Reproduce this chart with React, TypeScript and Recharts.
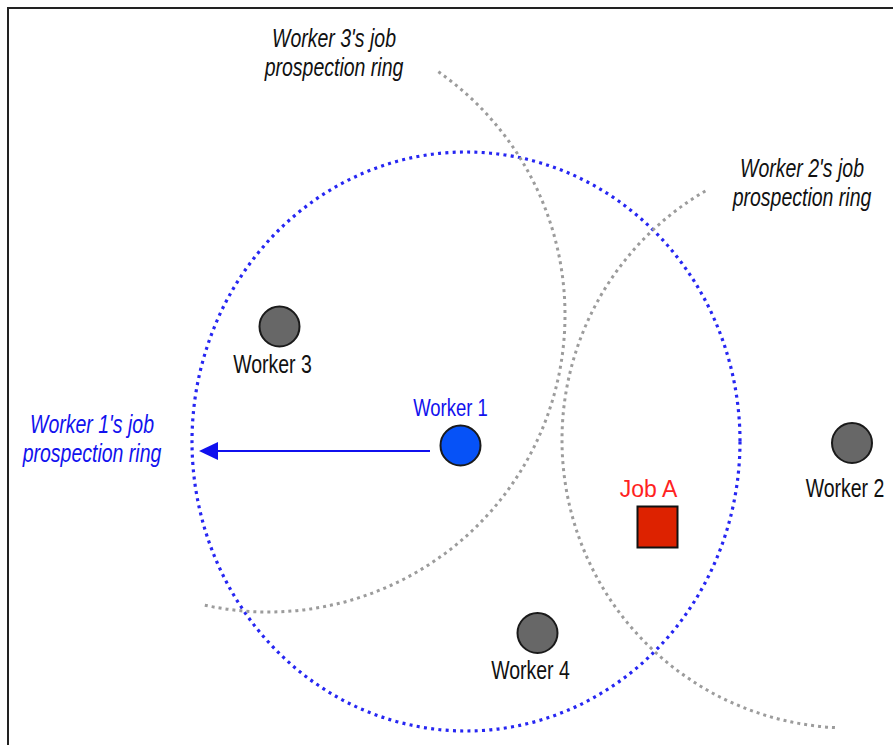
import React from 'react';
import { ScatterChart, Scatter, XAxis, YAxis, ReferenceArea, ReferenceLine } from 'recharts';

// Map is measured in km (10 px on screen = 1 km)
const mapWidthKm = 89.3;
const mapHeightKm = 74.5;

// Workers
const workerNames = ['Worker 1', 'Worker 2', 'Worker 3', 'Worker 4'];
const workerX = [46.05, 85.2, 27.95, 53.75];
const workerY = [44.55, 44.3, 32.65, 63.3];

// Jobs
const jobNames = ['Job A'];
const jobX = [65.75];
const jobY = [52.7];

// Job prospection rings (centre, radii, visible arc in degrees)
const ringOwners = ['Worker 1', 'Worker 2', 'Worker 3'];
const ringCX = [46.6, 85.0, 26.8];
const ringCY = [44.15, 44.0, 31.5];
const ringRX = [27.4, 28.8, 29.7];
const ringRY = [28.95, 28.8, 29.7];
const ringStart = [0, 93, -55];
const ringEnd = [360, 240, 103];

// Ring annotations
const noteOwners = ['Worker 1', 'Worker 2', 'Worker 3'];
const noteLine1 = ["Worker 1's job", "Worker 2's job", "Worker 3's job"];
const noteLine2 = ['prospection ring', 'prospection ring', 'prospection ring'];
const noteX = [9.2, 80.2, 33.4];
const noteY = [43.3, 17.7, 4.7];

// Arrow pointing from Worker 1 to its ring
const arrowFrom = { x: 43.0, y: 45.1 };
const arrowTo = { x: 19.9, y: 45.1 };

const workers = workerNames.map((name, i) => ({ name, x: workerX[i], y: workerY[i] }));
const jobs = jobNames.map((name, i) => ({ name, x: jobX[i], y: jobY[i] }));
const notes = noteOwners.map((owner, i) => ({
  owner,
  line1: noteLine1[i],
  line2: noteLine2[i],
  x: noteX[i],
  y: noteY[i],
}));

const FONT = "'Liberation Sans', Arial, Helvetica, sans-serif";
const BLUE_TEXT = '#1212ee';
const LABEL_EXTRA_DY: Record<string, number> = { 'Worker 2': 8 };

const StretchText = ({ x, y, children, fontSize, fill, italic = false, stretch = 1.3 }: any) => (
  <text
    transform={`translate(${x},${y}) scale(1,${stretch})`}
    x={0}
    y={0}
    textAnchor="middle"
    fontSize={fontSize}
    fill={fill}
    fontStyle={italic ? 'italic' : 'normal'}
    fontFamily={FONT}
  >
    {children}
  </text>
);

const WorkerShape = (props: any) => {
  const { cx, cy, payload } = props;
  const isMain = payload.name === 'Worker 1';
  const extra = LABEL_EXTRA_DY[payload.name] || 0;
  return (
    <g>
      <circle cx={cx} cy={cy} r={20} fill={isMain ? '#0652f7' : '#676767'} stroke="#1a1a1a" strokeWidth={2} />
      {isMain ? (
        <StretchText x={cx - 10} y={cy - 30} fontSize={18.5} fill={BLUE_TEXT}>
          {payload.name}
        </StretchText>
      ) : (
        <StretchText x={cx - 7} y={cy + 46 + extra} fontSize={19.5} fill="#111">
          {payload.name}
        </StretchText>
      )}
    </g>
  );
};

const JobShape = (props: any) => {
  const { cx, cy, payload } = props;
  return (
    <g>
      <rect x={cx - 20} y={cy - 20.5} width={40} height={41} fill="#dd2200" stroke="#111" strokeWidth={2} />
      <text x={cx - 9} y={cy - 30} textAnchor="middle" fontSize={23} fill="#ff2222" fontFamily={FONT}>
        {payload.name}
      </text>
    </g>
  );
};

const NoteShape = (props: any) => {
  const { cx, cy, payload } = props;
  const color = payload.owner === 'Worker 1' ? BLUE_TEXT : '#111';
  return (
    <g>
      <StretchText x={cx} y={cy} fontSize={19.5} fill={color} italic stretch={1.3}>
        {payload.line1}
      </StretchText>
      <StretchText x={cx} y={cy + 29} fontSize={19.5} fill={color} italic stretch={1.3}>
        {payload.line2}
      </StretchText>
    </g>
  );
};

const makeRingShape = (start: number, end: number, main: boolean) => (props: any) => {
  const { x, y, width, height } = props;
  const cx = x + width / 2;
  const cy = y + height / 2;
  const rx = Math.abs(width) / 2;
  const ry = Math.abs(height) / 2;
  const stroke = main ? '#2626f2' : '#9c9c9c';
  const strokeWidth = main ? 3.2 : 3;
  const dash = main ? '3 4.3' : '3 4';
  if (end - start >= 360) {
    return <ellipse cx={cx} cy={cy} rx={rx} ry={ry} fill="none" stroke={stroke} strokeWidth={strokeWidth} strokeDasharray={dash} />;
  }
  const a1 = (start * Math.PI) / 180;
  const a2 = (end * Math.PI) / 180;
  const x1 = cx + rx * Math.cos(a1);
  const y1 = cy + ry * Math.sin(a1);
  const x2 = cx + rx * Math.cos(a2);
  const y2 = cy + ry * Math.sin(a2);
  const large = end - start > 180 ? 1 : 0;
  return (
    <path
      d={`M${x1},${y1} A${rx},${ry} 0 ${large} 1 ${x2},${y2}`}
      fill="none"
      stroke={stroke}
      strokeWidth={strokeWidth}
      strokeDasharray={dash}
    />
  );
};

const ArrowShape = (props: any) => {
  const { x1, y1, x2, y2 } = props;
  const dir = x2 < x1 ? 1 : -1;
  const headLen = 19;
  const half = 9;
  return (
    <g>
      <line x1={x1} y1={y1} x2={x2 + dir * headLen} y2={y2} stroke="#1010ee" strokeWidth={2} />
      <polygon
        points={`${x2},${y2} ${x2 + dir * headLen},${y2 - half} ${x2 + dir * headLen},${y2 + half}`}
        fill="#1010ee"
      />
    </g>
  );
};

export default function App() {
  return (
    <div style={{ position: 'fixed', left: 0, top: 0, width: 893, height: 745, background: '#fff' }}>
      <div
        style={{
          position: 'absolute',
          left: 7,
          top: 7,
          width: 886,
          height: 738,
          borderTop: '2px solid #222',
          borderLeft: '2px solid #222',
          boxSizing: 'border-box',
          pointerEvents: 'none',
        }}
      />
      <ScatterChart width={893} height={745} margin={{ top: 0, right: 0, bottom: 0, left: 0 }}>
        <XAxis type="number" dataKey="x" domain={[0, mapWidthKm]} hide allowDataOverflow />
        <YAxis type="number" dataKey="y" domain={[0, mapHeightKm]} reversed hide allowDataOverflow />
        {ringOwners.map((owner, i) => (
          <ReferenceArea
            key={owner}
            x1={ringCX[i] - ringRX[i]}
            x2={ringCX[i] + ringRX[i]}
            y1={ringCY[i] - ringRY[i]}
            y2={ringCY[i] + ringRY[i]}
            ifOverflow="visible"
            shape={makeRingShape(ringStart[i], ringEnd[i], owner === 'Worker 1')}
          />
        ))}
        <ReferenceLine segment={[arrowFrom, arrowTo]} ifOverflow="visible" shape={ArrowShape} />
        <Scatter name="notes" data={notes} shape={NoteShape} isAnimationActive={false} />
        <Scatter name="jobs" data={jobs} shape={JobShape} isAnimationActive={false} />
        <Scatter name="workers" data={workers} shape={WorkerShape} isAnimationActive={false} />
      </ScatterChart>
    </div>
  );
}
